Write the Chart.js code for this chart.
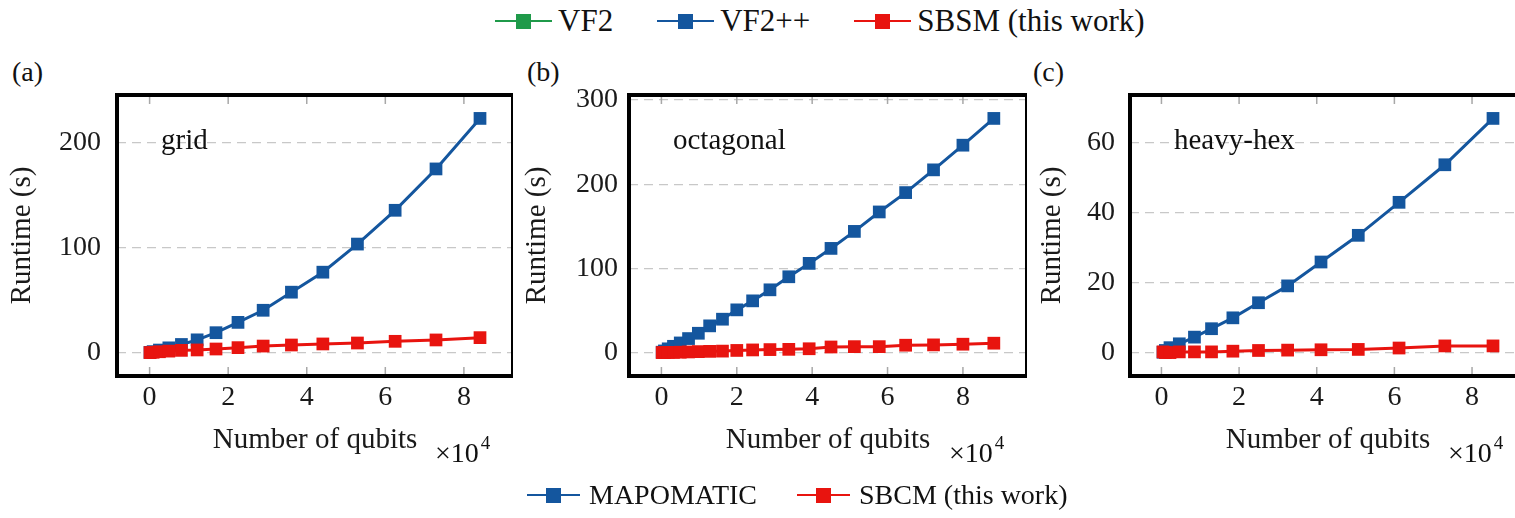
<!DOCTYPE html>
<html>
<head>
<meta charset="utf-8">
<script src="https://cdn.jsdelivr.net/npm/chart.js@4.4.1/dist/chart.umd.min.js"></script>
<style>
  html, body { margin: 0; padding: 0; background: #fff; overflow: hidden; }
  body { width: 1515px; height: 518px; position: relative; font-family: 'Liberation Serif', serif; color: #111; }
  .wrap { position: absolute; top: 0; height: 518px; overflow: hidden; }
  .wrap canvas { position: absolute; left: 0; top: 0; }
  .panel-label { position: absolute; top: 55px; font-size: 28px; line-height: 34px; }
  .legend { position: absolute; display: flex; align-items: center; white-space: nowrap; }
  .legend .item { display: flex; align-items: center; }
  .legend .key { position: relative; height: 16px; }
  .legend .key .ln { position: absolute; left: 0; right: 0; top: 7px; height: 1.5px; }
  .legend .key .sq { position: absolute; top: 0.5px; width: 15px; height: 15px; left: 50%; margin-left: -7.5px; }
</style>
</head>
<body>
<div class="legend" id="legendTop" style="left:495px; top:3px; height:36px; font-size:31px;"></div>

<div class="panel-label" style="left:12px;">(a)</div>
<div class="panel-label" style="left:527px;">(b)</div>
<div class="panel-label" style="left:1033px;">(c)</div>

<div class="wrap" style="left:0px; width:513px;"><canvas id="chartA" width="513" height="518"></canvas></div>
<div class="wrap" style="left:520px; width:507px;"><canvas id="chartB" width="507" height="518"></canvas></div>
<div class="wrap" style="left:1030px; width:485px;"><canvas id="chartC" width="496" height="518"></canvas></div>

<div class="legend" id="legendBottom" style="left:527px; top:478px; height:34px; font-size:28px;"></div>

<script>
// ---- data (x in units of 10^4 qubits, y in seconds) ----
const gridQubits = [0.01, 0.09, 0.25, 0.49, 0.81, 1.21, 1.69, 2.25, 2.89, 3.61, 4.41, 5.29, 6.25, 7.29, 8.41];
const gridVF2pp  = [0.3, 1.0, 2.5, 4.6, 7.8, 12.2, 19.0, 28.8, 40.3, 57.5, 76.5, 103.2, 135.3, 174.6, 222.6];
const gridSBSM   = [0.1, 0.4, 0.9, 1.5, 2.2, 2.6, 3.5, 4.8, 6.3, 7.3, 8.3, 9.2, 10.8, 12.1, 14.3];

const octQubits = [0.02, 0.08, 0.18, 0.32, 0.5, 0.72, 0.98, 1.28, 1.62, 2.0, 2.42, 2.88, 3.38, 3.92, 4.5, 5.12, 5.78, 6.48, 7.22, 8.0, 8.82];
const octVF2pp  = [0.5, 2.0, 4.5, 7.5, 11.5, 16.7, 23.0, 31.8, 39.7, 50.8, 61.5, 74.6, 90.1, 106.0, 123.8, 144.0, 167.1, 190.1, 217.1, 246.4, 278.2];
const octSBSM   = [0.05, 0.1, 0.2, 0.3, 0.5, 0.8, 1.2, 1.5, 1.8, 2.6, 3.2, 3.6, 3.9, 4.6, 6.7, 7.1, 7.1, 8.8, 9.2, 10.0, 11.2];

const hexQubits = [0.04, 0.1, 0.22, 0.46, 0.85, 1.29, 1.84, 2.50, 3.25, 4.11, 5.07, 6.12, 7.30, 8.54];
const hexVF2pp  = [0.2, 0.7, 1.5, 2.6, 4.5, 6.9, 10.0, 14.3, 19.1, 25.9, 33.5, 42.9, 53.6, 66.8];
const hexSBSM   = [0.3, 0.1, 0.1, 0.3, 0.3, 0.3, 0.5, 0.7, 0.8, 0.9, 1.0, 1.4, 2.0, 2.0];

const xTicks     = [0, 2, 4, 6, 8];
const gridYTicks = [0, 100, 200];
const octYTicks  = [0, 100, 200, 300];
const hexYTicks  = [0, 20, 40, 60];

const topLegendLabels    = ['VF2', 'VF2++', 'SBSM (this work)'];
const bottomLegendLabels = ['MAPOMATIC', 'SBCM (this work)'];

const BLUE = '#14569e';
const RED = '#e8140f';
const GREEN = '#1f9a4a';
const FONT = 'Liberation Serif';

// legends
function buildLegend(el, labels, colors, keyW, textGap, itemGap) {
    labels.forEach((lab, i) => {
        const item = document.createElement('div');
        item.className = 'item';
        if (i < labels.length - 1) item.style.marginRight = itemGap + 'px';
        item.innerHTML = `
            <span class="key" style="width:${keyW}px">
                <span class="ln" style="background:${colors[i]}"></span>
                <span class="sq" style="background:${colors[i]}"></span>
            </span>
            <span style="margin-left:${textGap}px">${lab}</span>`;
        el.appendChild(item);
    });
}
buildLegend(document.getElementById('legendTop'), topLegendLabels, [GREEN, BLUE, RED], 57, 6, 44);
buildLegend(document.getElementById('legendBottom'), bottomLegendLabels, [BLUE, RED], 53, 9, 40);

// pgfplots style 10% enlargement of limits
function enlarge(vals) {
    let lo = Math.min(...vals), hi = Math.max(...vals);
    let pad = (hi - lo) * 0.1;
    return [lo - pad, hi + pad];
}

// frame, inner x ticks, panel name and x10^4 label
const panelDeco = {
    id: 'panelDeco',
    beforeDatasetsDraw(chart) {
        const { ctx, chartArea: a, scales: { x } } = chart;
        ctx.save();
        ctx.strokeStyle = '#a8a8a8';
        ctx.lineWidth = 1.5;
        x.ticks.forEach(t => {
            const px = x.getPixelForValue(t.value);
            ctx.beginPath();
            ctx.moveTo(px, a.top); ctx.lineTo(px, a.top + 9);
            ctx.moveTo(px, a.bottom); ctx.lineTo(px, a.bottom - 9);
            ctx.stroke();
        });
        ctx.restore();
    },
    afterDraw(chart, args, opts) {
        const { ctx, chartArea: a } = chart;
        ctx.save();
        ctx.strokeStyle = '#000';
        ctx.lineWidth = 4;
        ctx.strokeRect(a.left, a.top, a.right - a.left, a.bottom - a.top);
        ctx.fillStyle = '#111';
        ctx.textBaseline = 'alphabetic';
        ctx.font = `29px "${FONT}"`;
        ctx.fillText(opts.label, a.left + 44, a.top + 54);
        ctx.font = `28px "${FONT}"`;
        const sx = a.right - 78;
        ctx.fillText('×10', sx, 462);
        const w = ctx.measureText('×10').width;
        ctx.font = `19px "${FONT}"`;
        ctx.fillText('4', sx + w + 2, 449);
        ctx.restore();
    }
};

function makePanel(id, qubits, vf2pp, sbsm, yTicks, label, yWidth, yPad, titlePad) {
    const ctx = document.getElementById(id).getContext('2d');
    const xr = enlarge(qubits);
    const yr = enlarge(vf2pp.concat(sbsm));
    return new Chart(ctx, {
        type: 'line',
        data: {
            datasets: [{
                label: 'SBSM (this work)',
                data: qubits.map((q, i) => ({ x: q, y: sbsm[i] })),
                borderColor: RED,
                backgroundColor: RED,
                borderWidth: 3,
                pointStyle: 'rect',
                pointRadius: 9,
                pointBorderWidth: 0,
                tension: 0
            }, {
                label: 'VF2++',
                data: qubits.map((q, i) => ({ x: q, y: vf2pp[i] })),
                borderColor: BLUE,
                backgroundColor: BLUE,
                borderWidth: 3,
                pointStyle: 'rect',
                pointRadius: 9,
                pointBorderWidth: 0,
                tension: 0
            }]
        },
        options: {
            responsive: false,
            animation: false,
            devicePixelRatio: 1,
            layout: { autoPadding: false, padding: { top: 95, bottom: 60, left: 0, right: 0 } },
            plugins: {
                legend: { display: false },
                tooltip: { enabled: false },
                panelDeco: { label: label }
            },
            scales: {
                x: {
                    type: 'linear',
                    min: xr[0],
                    max: xr[1],
                    afterBuildTicks: s => { s.ticks = xTicks.map(v => ({ value: v })); },
                    afterFit: s => { s.height = 82; s.paddingLeft = 0; s.paddingRight = 0; },
                    grid: { display: false, drawTicks: false },
                    border: { display: false },
                    ticks: { color: '#1a1a1a', font: { family: FONT, size: 28 }, padding: 5 },
                    title: {
                        display: true,
                        text: 'Number of qubits',
                        color: '#1a1a1a',
                        font: { family: FONT, size: 29 },
                        padding: { top: 0, bottom: 0 }
                    }
                },
                y: {
                    type: 'linear',
                    min: yr[0],
                    max: yr[1],
                    afterBuildTicks: s => { s.ticks = yTicks.map(v => ({ value: v })); },
                    afterFit: s => { s.width = yWidth; s.paddingTop = 0; s.paddingBottom = 0; },
                    grid: { color: '#c8c8c8', lineWidth: 1.2, drawTicks: false },
                    border: { display: false, dash: [9, 6] },
                    ticks: { color: '#1a1a1a', font: { family: FONT, size: 28 }, padding: yPad },
                    title: {
                        display: true,
                        text: 'Runtime (s)',
                        color: '#1a1a1a',
                        font: { family: FONT, size: 29 },
                        padding: { top: titlePad, bottom: 0 }
                    }
                }
            }
        },
        plugins: [panelDeco]
    });
}

makePanel('chartA', gridQubits, gridVF2pp, gridSBSM, gridYTicks, 'grid', 117, 16, 5);
makePanel('chartB', octQubits, octVF2pp, octSBSM, octYTicks, 'octagonal', 109, 11, 0);
makePanel('chartC', hexQubits, hexVF2pp, hexSBSM, hexYTicks, 'heavy-hex', 100, 15, 5);
</script>
</body>
</html>
